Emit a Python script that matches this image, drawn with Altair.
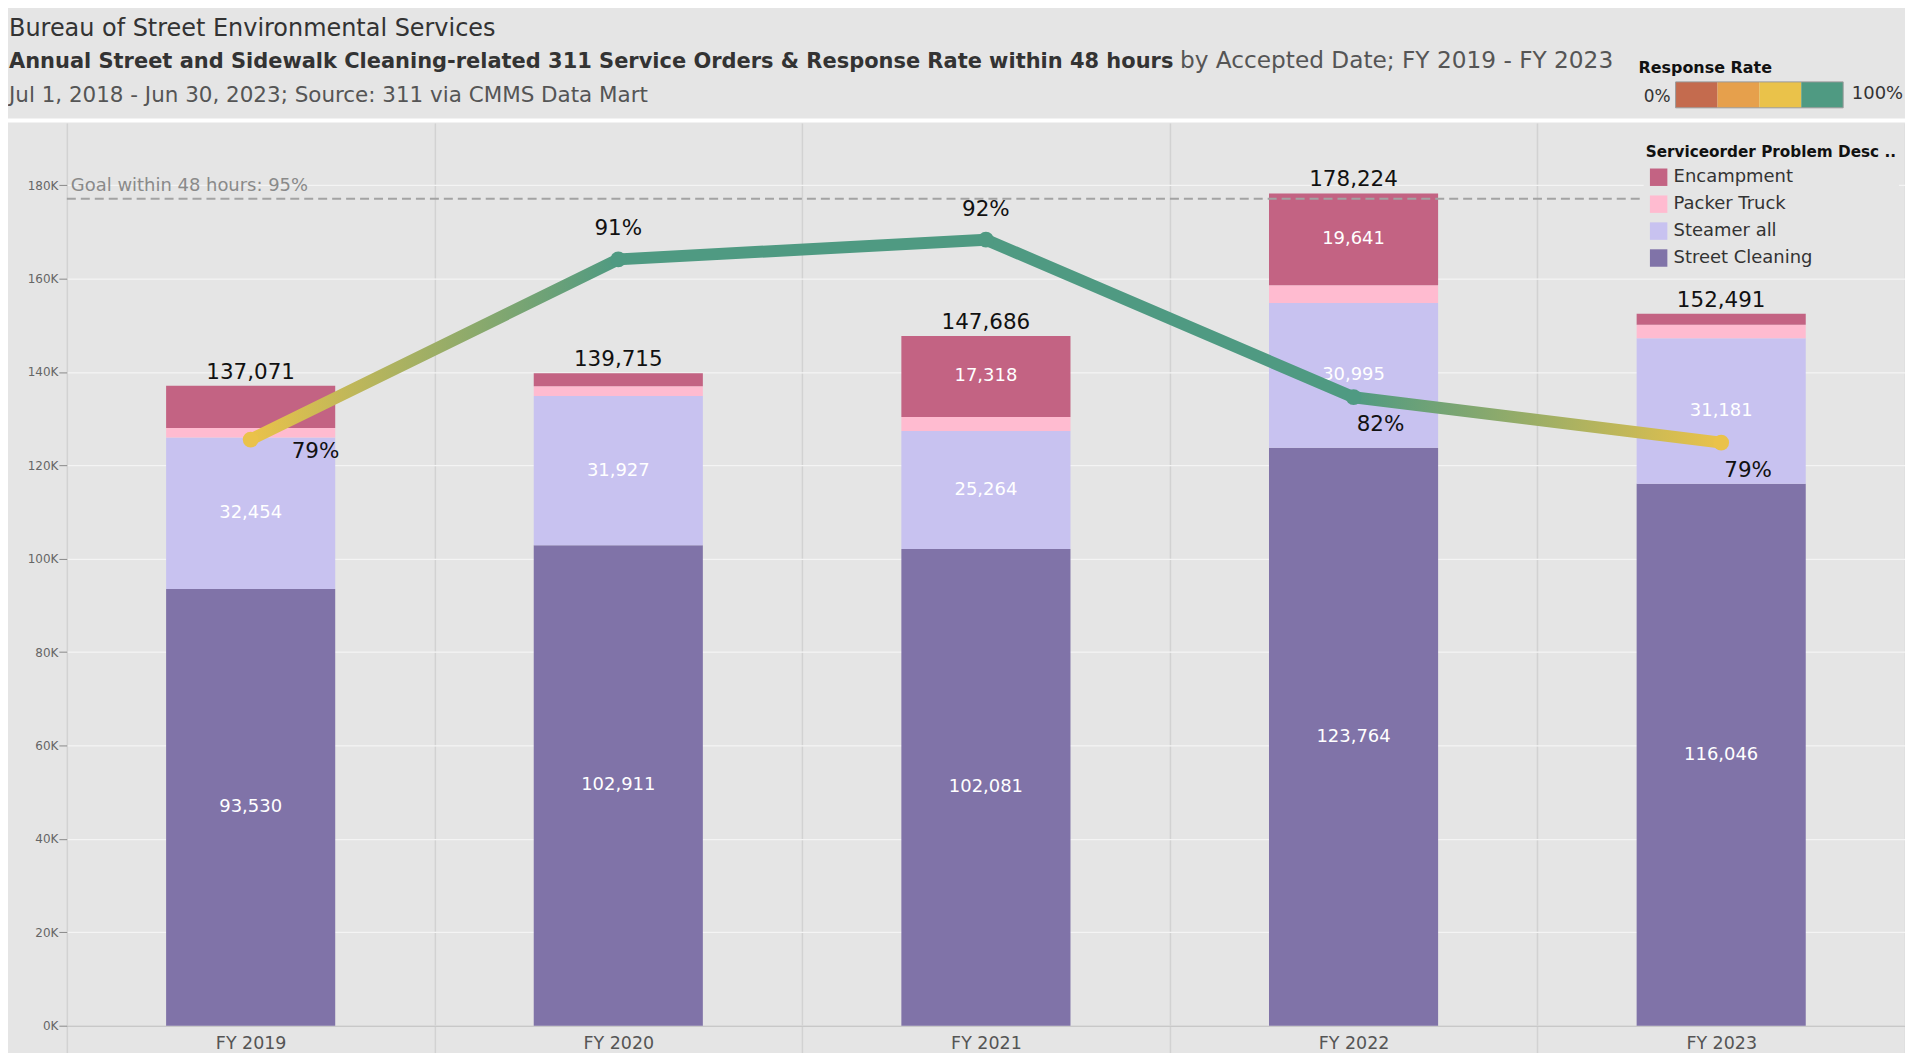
import altair as alt
import pandas as pd

# ---------------- data ----------------
years = ["FY 2019", "FY 2020", "FY 2021", "FY 2022", "FY 2023"]
categories = ["Encampment", "Packer Truck", "Steamer all", "Street Cleaning"]
stack_order = ["Street Cleaning", "Steamer all", "Packer Truck", "Encampment"]  # bottom -> top
street_cleaning = [93530, 102911, 102081, 123764, 116046]
steamer_all = [32454, 31927, 25264, 30995, 31181]
packer_truck = [2000, 2077, 3023, 3824, 2864]
encampment = [9087, 2800, 17318, 19641, 2400]
totals = [137071, 139715, 147686, 178224, 152491]
response_rate = [0.791, 0.910, 0.923, 0.819, 0.789]
goal_rate = [0.95]
goal_label = ["Goal within 48 hours: 95%"]
y_ticks = [0, 20000, 40000, 60000, 80000, 100000, 120000, 140000, 160000, 180000]
rate_bins = [0, 25, 50, 75, 100]

header_title = ["Bureau of Street Environmental Services"]
header_bold = ["Annual Street and Sidewalk Cleaning-related 311 Service Orders & Response Rate within 48 hours"]
header_rest = ["by Accepted Date; FY 2019 - FY 2023"]
header_source = ["Jul 1, 2018 - Jun 30, 2023; Source: 311 via CMMS Data Mart"]
legend_title = "Serviceorder Problem Desc .."
rate_legend_title = ["Response Rate"]
rate_legend_low = ["0%"]
rate_legend_high = ["100%"]

# ---------------- style ----------------
FONT = "DejaVu Sans"
BG = "#e5e5e5"
cat_colors = ["#c36383", "#ffbbd0", "#c8c2f0", "#8073a8"]
rate_colors = ["#c46b4e", "#e6a04c", "#eac24a", "#4f9a82"]
rate_thresholds = [0.6, 0.7, 0.8]
LABEL_MIN = 10000
W, H = 1843, 905
PAD_L, PAD_T = 59, 114
LEG_X = 1581

series = {
    "Street Cleaning": street_cleaning,
    "Steamer all": steamer_all,
    "Packer Truck": packer_truck,
    "Encampment": encampment,
}
rows = []
for i, yr in enumerate(years):
    base = 0
    for cat in stack_order:
        v = series[cat][i]
        rows.append(dict(year=yr, cat=cat, value=v, start=base, end=base + v,
                         mid=base + v / 2, show=bool(v >= LABEL_MIN)))
        base += v
bar_df = pd.DataFrame(rows)
tot_df = pd.DataFrame({"year": years, "total": totals})
rate_df = pd.DataFrame({"year": years, "rate": response_rate})
goal_df = pd.DataFrame({"rate": goal_rate, "label": goal_label})


def rate_color(r):
    for t, c in zip(rate_thresholds, rate_colors):
        if r < t:
            return c
    return rate_colors[-1]


n = len(response_rate)
gradient = alt.LinearGradient(
    gradient="linear",
    stops=[alt.GradientStop(color=rate_color(r), offset=i / (n - 1)) for i, r in enumerate(response_rate)],
    x1=0, x2=1, y1=0, y2=0,
)

x_scale = alt.Scale(domain=years, paddingInner=0, paddingOuter=0)
y_scale = alt.Scale(domain=[0, 193300], nice=False, zero=True)
rate_scale = alt.Scale(domain=[0.404, 1.0], nice=False, zero=False)

x_axis = alt.Axis(title=None, labelFont=FONT, labelFontSize=17.5, labelColor="#555555", labelAngle=0,
                  grid=True, gridColor="#d2d2d2", gridWidth=1.5, tickBand="extent", tickSize=34,
                  tickColor="#d2d2d2", tickWidth=1.5, labelPadding=-25.5, domainColor="#c8c8c8",
                  domainWidth=1.5)
y_axis = alt.Axis(values=y_ticks, labelExpr="(datum.value/1000) + 'K'", title=None, grid=True,
                  gridColor="#f4f4f4", gridWidth=1.3, domain=False, tickSize=8, tickColor="#8a8a8a",
                  labelFont=FONT, labelFontSize=12, labelColor="#666666", labelPadding=1)

X = alt.X("year:N", scale=x_scale, axis=x_axis, sort=years)
Xn = alt.X("year:N", scale=x_scale, axis=None, sort=years)

# ---------------- bars ----------------
bars = alt.Chart(bar_df).mark_bar(width=alt.RelativeBandSize(0.46)).encode(
    x=X,
    y=alt.Y("start:Q", scale=y_scale, axis=y_axis),
    y2="end:Q",
    color=alt.Color("cat:N", scale=alt.Scale(domain=categories, range=cat_colors),
                    legend=alt.Legend(title=legend_title, orient="none", legendX=LEG_X, legendY=20,
                                      padding=2, fillColor=BG, titleFont=FONT, titleFontSize=15.3,
                                      titleFontWeight="bold", titleColor="#111111", titleLimit=400,
                                      titlePadding=8, labelFont=FONT, labelFontSize=18,
                                      labelColor="#333333", labelOffset=6, symbolType="square",
                                      symbolSize=306, symbolStrokeWidth=0, symbolOffset=4,
                                      rowPadding=9)),
)
seg_labels = alt.Chart(bar_df).transform_filter("datum.show").mark_text(
    font=FONT, fontSize=18, color="#ffffff", baseline="middle"
).encode(x=Xn, y=alt.Y("mid:Q", scale=y_scale, axis=None), text=alt.Text("value:Q", format=","))
tot_labels = alt.Chart(tot_df).mark_text(
    font=FONT, fontSize=21.5, color="#111111", baseline="alphabetic", dy=-7
).encode(x=Xn, y=alt.Y("total:Q", scale=y_scale, axis=None), text=alt.Text("total:Q", format=","))

# ---------------- response rate ----------------
RY = alt.Y("rate:Q", scale=rate_scale, axis=None)
goal_rule = alt.Chart(goal_df).mark_rule(strokeDash=[9, 5], strokeWidth=2, color="#a3a3a3").encode(
    x=alt.value(0), x2=alt.value(LEG_X), y=RY)
goal_text = alt.Chart(goal_df).mark_text(
    font=FONT, fontSize=18, color="#8a8a8a", align="left", baseline="alphabetic", dy=-8
).encode(x=alt.value(4), y=RY, text="label:N")
line = alt.Chart(rate_df).mark_line(strokeWidth=12, strokeCap="round", strokeJoin="round",
                                   color=gradient).encode(x=Xn, y=RY)
points = alt.Chart(rate_df).mark_circle(size=250, opacity=1).encode(
    x=Xn, y=RY,
    color=alt.Color("rate:Q", scale=alt.Scale(type="threshold", domain=rate_thresholds, range=rate_colors),
                    legend=None),
)
rtext = dict(font=FONT, fontSize=21.5, color="#111111", baseline="middle")
rate_above = alt.Chart(rate_df).transform_filter(
    alt.FieldOneOfPredicate(field="year", oneOf=["FY 2020", "FY 2021"])
).mark_text(dy=-30, **rtext).encode(x=Xn, y=RY, text=alt.Text("rate:Q", format=".0%"))
rate_below = alt.Chart(rate_df).transform_filter(
    alt.FieldOneOfPredicate(field="year", oneOf=["FY 2022", "FY 2023"])
).mark_text(dx=27, dy=28, **rtext).encode(x=Xn, y=RY, text=alt.Text("rate:Q", format=".0%"))
rate_side = alt.Chart(rate_df).transform_filter(
    alt.FieldOneOfPredicate(field="year", oneOf=["FY 2019"])
).mark_text(dx=65, dy=12, **rtext).encode(x=Xn, y=RY, text=alt.Text("rate:Q", format=".0%"))


# ---------------- header & response-rate legend ----------------
def txt(values, x, y, size, color, weight="normal", align="left"):
    return alt.Chart(pd.DataFrame({"t": values})).mark_text(
        font=FONT, fontSize=size, color=color, fontWeight=weight, align=align, baseline="alphabetic"
    ).encode(x=alt.value(x), y=alt.value(y), text="t:N")


one = pd.DataFrame({"a": [0]})
separator = alt.Chart(one).mark_rule(color="#ffffff", strokeWidth=4).encode(
    x=alt.value(-PAD_L), x2=alt.value(W), y=alt.value(-2.5))
h1 = txt(header_title, -58, -87, 24, "#333333")
h2 = txt(header_bold, -58, -55.3, 21, "#333333", weight="bold")
h2b = txt(header_rest, 1116, -55.3, 23.3, "#555555")
h3 = txt(header_source, -58, -21, 21.5, "#555555")
RR0, RR1 = 1613, 1781
rr_title = txt(rate_legend_title, 1575.7, -50.3, 16, "#111111", weight="bold")
rr_low = txt(rate_legend_low, RR0 - 5, -21, 17, "#333333", align="right")
rr_high = txt(rate_legend_high, RR1 + 8.7, -23.7, 18, "#333333")

rr_df = pd.DataFrame({"lo": rate_bins[:-1], "hi": rate_bins[1:], "c": rate_colors})
rr_x = alt.X("lo:Q", scale=alt.Scale(domain=[rate_bins[0], rate_bins[-1]], range=[RR0, RR1], nice=False,
                                     zero=False), axis=None)
rr_rects = alt.Chart(rr_df).mark_rect().encode(
    x=rr_x, x2="hi:Q", y=alt.value(-41.3), y2=alt.value(-15.3), color=alt.Color("c:N", scale=None))
rr_border = alt.Chart(pd.DataFrame({"lo": [rate_bins[0]], "hi": [rate_bins[-1]]})).mark_rect(
    fill="transparent", stroke="#9a9a9a", strokeWidth=1).encode(
    x=rr_x, x2="hi:Q", y=alt.value(-41.3), y2=alt.value(-15.3))

chart = alt.layer(
    bars, seg_labels, tot_labels,
    goal_rule, goal_text, line, points, rate_above, rate_below, rate_side,
    separator, h1, h2, h2b, h3, rr_title, rr_low, rr_high, rr_rects, rr_border,
).resolve_scale(
    x="independent", y="independent", color="independent"
).properties(
    width=W, height=H,
    autosize=alt.AutoSizeParams(type="none"),
    padding={"left": PAD_L, "top": PAD_T, "right": 0, "bottom": 26},
).configure(background=BG, font=FONT).configure_view(stroke=None)

chart.save("out.html", embed_options={"renderer": "svg", "actions": False})
